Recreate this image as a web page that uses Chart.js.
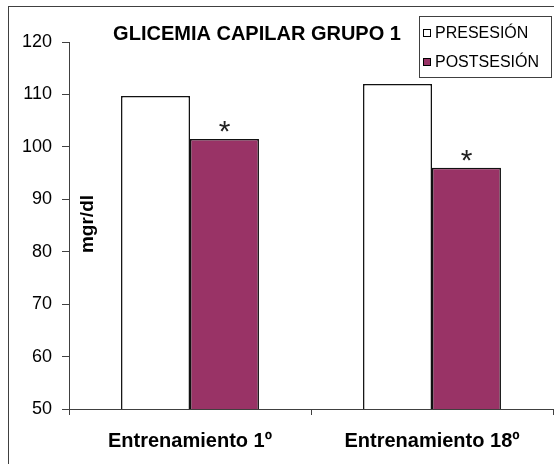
<!DOCTYPE html>
<html lang="es">
<head>
    <meta charset="UTF-8">
    <title>Glicemia capilar grupo 1</title>
    <script src="https://cdn.jsdelivr.net/npm/chart.js"></script>
    <style>
        body {
            margin: 0;
            background-color: #fff;
        }

        .chart-container {
            width: 554px;
            height: 464px;
        }
    </style>
</head>
<body>
    <div class="chart-container">
        <canvas id="myChart" width="554" height="464"></canvas>
    </div>

    <script>
        const categories = ['Entrenamiento 1º', 'Entrenamiento 18º'];
        const seriesNames = ['PRESESIÓN', 'POSTSESIÓN'];
        const presesion = [109.7, 112.0];
        const postsesion = [101.5, 96.0];
        const significant = [true, true]; // asterisk over POSTSESIÓN bar
        const yMin = 50;
        const yMax = 120;
        const yStep = 10;

        const FONT = '"Liberation Sans", Arial, sans-serif';
        const AXIS_COLOR = '#404040';
        const colors = ['#ffffff', '#993366'];

        // Frame, title, legend, y label and asterisks
        const extras = {
            id: 'extras',
            beforeDraw(chart) {
                const ctx = chart.ctx;
                ctx.save();
                ctx.fillStyle = '#fff';
                ctx.fillRect(0, 0, chart.width, chart.height);
                ctx.restore();
            },
            afterDraw(chart) {
                const ctx = chart.ctx;
                ctx.save();

                // outer frame
                ctx.strokeStyle = AXIS_COLOR;
                ctx.lineWidth = 1;
                ctx.strokeRect(8.5, 6.5, 600, 500);

                // title
                ctx.fillStyle = '#000';
                ctx.font = 'bold 20px ' + FONT;
                ctx.textAlign = 'center';
                ctx.textBaseline = 'middle';
                ctx.fillText('GLICEMIA CAPILAR GRUPO 1', 257, 34);

                // legend
                ctx.strokeRect(419.5, 16.5, 132, 61);
                ctx.font = '16px ' + FONT;
                ctx.textAlign = 'left';
                seriesNames.forEach((name, i) => {
                    const y = 33 + i * 29;
                    ctx.fillStyle = colors[i];
                    ctx.fillRect(423, y - 4, 7, 7);
                    ctx.strokeStyle = '#000';
                    ctx.strokeRect(423.5, y - 3.5, 7, 7);
                    ctx.fillStyle = '#000';
                    ctx.fillText(name, 435, y + 1);
                });

                // y axis label (inside plot area)
                ctx.save();
                ctx.translate(88, 224);
                ctx.rotate(-Math.PI / 2);
                ctx.font = 'bold 19px ' + FONT;
                ctx.textAlign = 'center';
                ctx.textBaseline = 'middle';
                ctx.fillText('mgr/dl', 0, 0);
                ctx.restore();

                // asterisks over significant bars
                const meta = chart.getDatasetMeta(1);
                ctx.font = '30px ' + FONT;
                ctx.textAlign = 'center';
                ctx.textBaseline = 'alphabetic';
                ctx.fillStyle = '#222';
                meta.data.forEach((bar, i) => {
                    if (significant[i]) {
                        ctx.fillText('*', bar.x, bar.y + 2);
                    }
                });

                ctx.restore();
            }
        };

        const ctx = document.getElementById('myChart').getContext('2d');
        const myChart = new Chart(ctx, {
            type: 'bar',
            data: {
                labels: categories,
                datasets: [
                    {
                        label: seriesNames[0],
                        data: presesion,
                        backgroundColor: colors[0],
                        borderColor: '#111',
                        borderWidth: 1.5,
                        borderSkipped: false
                    },
                    {
                        label: seriesNames[1],
                        data: postsesion,
                        backgroundColor: colors[1],
                        borderColor: '#111',
                        borderWidth: 1.5,
                        borderSkipped: false
                    }
                ]
            },
            options: {
                responsive: false,
                animation: false,
                datasets: {
                    bar: {
                        categoryPercentage: 0.57,
                        barPercentage: 1
                    }
                },
                layout: {
                    padding: { left: 0, right: 1, top: 42, bottom: 0 }
                },
                plugins: {
                    legend: { display: false },
                    title: { display: false },
                    tooltip: { enabled: false }
                },
                scales: {
                    x: {
                        offset: true,
                        grid: {
                            offset: true,
                            drawOnChartArea: false,
                            tickLength: 6,
                            color: AXIS_COLOR
                        },
                        border: { color: AXIS_COLOR, width: 1 },
                        ticks: {
                            color: '#000',
                            font: { family: FONT, size: 20, weight: 'bold' },
                            padding: 14,
                            maxRotation: 0,
                            autoSkip: false
                        },
                        afterFit(scale) {
                            scale.height = 55;
                        }
                    },
                    y: {
                        min: yMin,
                        max: yMax,
                        ticks: {
                            stepSize: yStep,
                            color: '#000',
                            font: { family: FONT, size: 18 },
                            padding: 10
                        },
                        grid: {
                            drawOnChartArea: false,
                            tickLength: 7,
                            color: AXIS_COLOR
                        },
                        border: { color: AXIS_COLOR, width: 1 },
                        afterFit(scale) {
                            scale.width = 69;
                        }
                    }
                }
            },
            plugins: [extras]
        });
    </script>
</body>
</html>
